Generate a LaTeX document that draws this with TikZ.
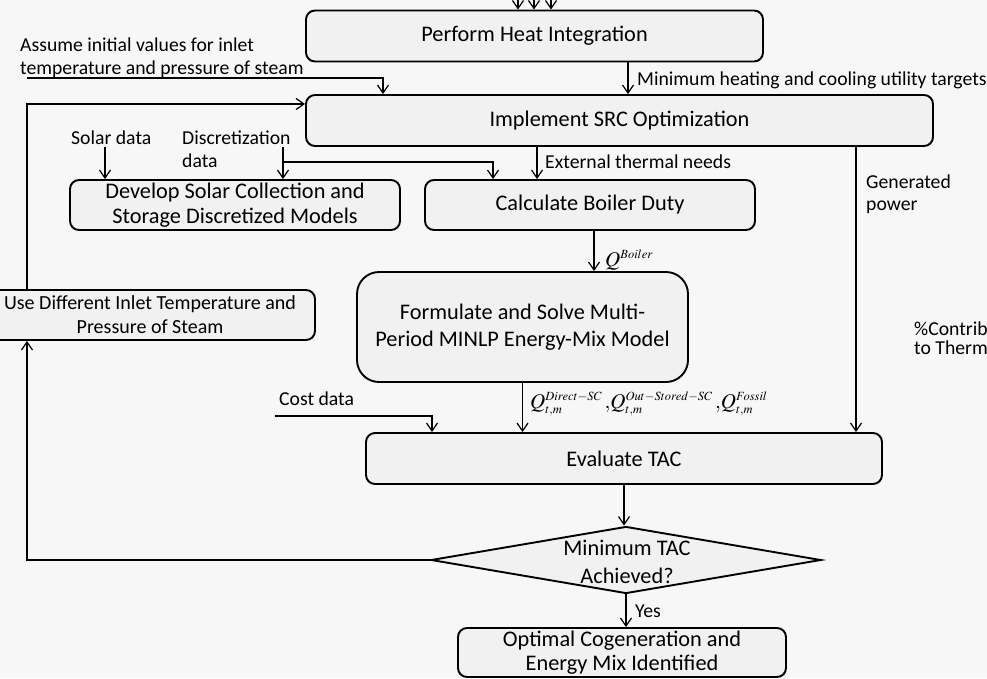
\documentclass[tikz,border=0pt]{standalone}
\usepackage{mathptmx}
\usepackage{fontspec}
\setmainfont{Carlito}
\usetikzlibrary{arrows.meta,shapes.geometric}
\definecolor{bgc}{HTML}{F8F7F7}
\definecolor{boxfill}{HTML}{F1F1F1}
\newcommand\supx[1]{\hbox{\fontsize{12.5}{14}\selectfont$#1$}}
\begin{document}
\begin{tikzpicture}[x=1pt,y=-1pt,
  box/.style={draw, line width=1.9pt, fill=boxfill, rounded corners=9pt, inner sep=0pt, align=center, font=\fontsize{22.3}{25}\selectfont},
  lbl/.style={inner sep=0pt, anchor=base west, font=\fontsize{19.7}{22}\selectfont},
  mlbl/.style={inner sep=0pt, anchor=base west, font=\fontsize{21}{24}\selectfont},
  arr/.style={line width=1.2pt, -{Straight Barb[length=8pt,width=11pt]}},
  ln/.style={line width=1.2pt}]
\fill[bgc] (0,0) rectangle (987,678);
\useasboundingbox (0,0) rectangle (987,678);

% boxes
\node[box, minimum width=457, minimum height=51] (heat) at (534.5,36) {Perform Heat Integration};
\node[box, minimum width=627, minimum height=51] (src) at (619.5,120.5) {Implement SRC Optimization};
\node[box, minimum width=330, minimum height=50] (solar) at (235,205) {Develop Solar Collection and\\Storage Discretized Models};
\node[box, minimum width=330, minimum height=50] (boiler) at (590,205) {Calculate Boiler Duty};
\node[box, rounded corners=22pt, minimum width=331, minimum height=110, font=\fontsize{22.3}{27}\selectfont] (form) at (522.5,327) {Formulate and Solve Multi-\\Period MINLP Energy-Mix Model};
\node[box, minimum width=330, minimum height=50, font=\fontsize{20}{24}\selectfont] (usediff) at (150,315) {Use Different Inlet Temperature and\\Pressure of Steam};
\node[box, minimum width=516, minimum height=51] (eval) at (624,458.5) {Evaluate TAC};
\node[draw, diamond, line width=1.9pt, fill=boxfill, minimum width=390, minimum height=67, inner sep=0pt] (dec) at (626,560) {};
\node[inner sep=0pt, align=center, font=\fontsize{22.3}{28}\selectfont] (dectxt) at (627,562) {Minimum TAC\\Achieved?};
\node[box, minimum width=328, minimum height=49, font=\fontsize{22.3}{24}\selectfont] (opt) at (622,652.5) {Optimal Cogeneration and\\Energy Mix Identified};

% helper coordinates
\coordinate (t1) at (518,0);
\coordinate (t2) at (534,0);
\coordinate (t3) at (551,0);
\coordinate (a0) at (27,78);
\coordinate (a1) at (383,78);
\coordinate (x628) at (628,0);
\coordinate (fb) at (27,104);
\coordinate (sd) at (105,147);
\coordinate (dd) at (283,147);
\coordinate (db) at (283,162);
\coordinate (db2) at (493,162);
\coordinate (x537) at (537,0);
\coordinate (x856) at (856,0);
\coordinate (x594) at (594,0);
\coordinate (cd0) at (275,416);
\coordinate (cd1) at (432,416);
\coordinate (x27) at (27,0);

% connectors
\draw[arr] (t1) -- (t1 |- heat.north);
\draw[arr] (t2) -- (t2 |- heat.north);
\draw[arr] (t3) -- (t3 |- heat.north);
\draw[arr] (a0) -- (a1) -- (a1 |- src.north);
\draw[arr] (heat.south -| x628) -- (src.north -| x628);
\draw[arr] (usediff.north -| fb) -- (fb) -- (fb -| src.west);
\draw[arr] (sd) -- (sd |- solar.north);
\draw[arr] (dd) -- (dd |- solar.north);
\draw[arr] (db) -- (db2) -- (db2 |- boiler.north);
\draw[arr] (src.south -| x537) -- (boiler.north -| x537);
\draw[arr] (src.south -| x856) -- (eval.north -| x856);
\draw[arr] (boiler.south -| x594) -- (form.north -| x594);
\draw[arr] (form.south) -- (form.south |- eval.north);
\draw[arr] (cd0) -- (cd1) -- (cd1 |- eval.north);
\draw[arr] (eval.south) -- (eval.south |- dec.north);
\draw[arr] (dec.south) -- (dec.south |- opt.north);
\draw[arr] (dec.west) -| (usediff.south -| x27);

% labels
\node[lbl] (l1a) at (20,51) {Assume initial values for inlet};
\node[lbl] (l1b) at (20,74) {temperature and pressure of steam};
\node[lbl] (l2) at (637,85) {Minimum heating and cooling utility targets};
\node[lbl] (l3) at (71,144) {Solar data};
\node[lbl] (l4a) at (182,144) {Discretization};
\node[lbl] (l4b) at (182,167) {data};
\node[lbl] (l5) at (545,168) {External thermal needs};
\node[lbl] (l6a) at (866,188) {Generated};
\node[lbl] (l6b) at (866,210) {power};
\node[mlbl] (l7) at (605,266) {$Q^{\supx{Boiler}}$};
\node[lbl] (l8a) at (914,335) {\%Contrib};
\node[lbl] (l8b) at (914,354) {to Therm};
\node[lbl] (l9) at (279,405) {Cost data};
\node[mlbl] (l10) at (530,408) {$Q_{\supx{t{,}m}}^{\supx{Direct{-}SC}}\,{,}Q_{\supx{t{,}m}}^{\supx{Out{-}Stored{-}SC}}\,{,}Q_{\supx{t{,}m}}^{\supx{Fossil}}$};
\node[lbl] (l11) at (635,617) {Yes};
\end{tikzpicture}
\end{document}
